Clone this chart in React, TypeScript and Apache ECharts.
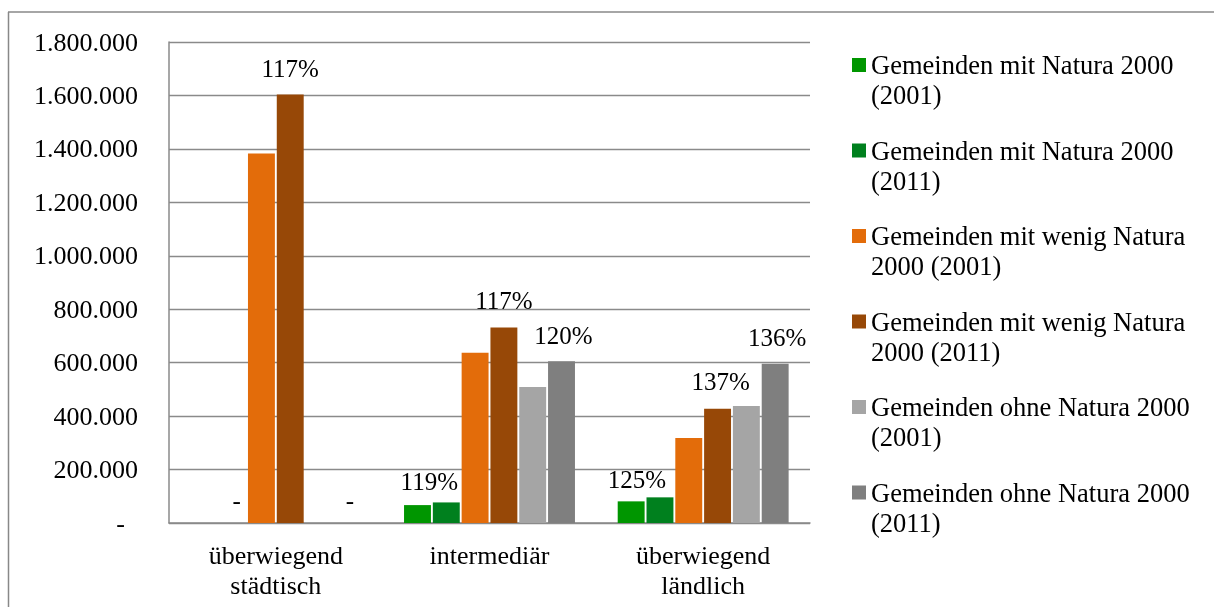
import React, { useEffect, useRef } from "react";
import * as echarts from "echarts";

const categories = ["überwiegend\nstädtisch", "intermediär", "überwiegend\nländlich"];
const seriesNames = [
  "Gemeinden mit Natura 2000 (2001)",
  "Gemeinden mit Natura 2000 (2011)",
  "Gemeinden mit wenig Natura 2000 (2001)",
  "Gemeinden mit wenig Natura 2000 (2011)",
  "Gemeinden ohne Natura 2000 (2001)",
  "Gemeinden ohne Natura 2000 (2011)",
];
const natura2001 = [0, 67000, 81000];
const natura2011 = [0, 77000, 96000];
const wenig2001 = [1383000, 637000, 318000];
const wenig2011 = [1604000, 732000, 428000];
const ohne2001 = [0, 509000, 438000];
const ohne2011 = [0, 605000, 596000];
const natura2011Labels = ["-", "119%", "125%"];
const wenig2011Labels = ["117%", "117%", "137%"];
const ohne2011Labels = ["-", "120%", "136%"];

const colors = ["#009600", "#00801E", "#E36C0A", "#974807", "#A5A5A5", "#7F7F7F"];
const FONT = "Liberation Serif";

// label placement styles (per category)
const naturaLabelStyle = [
  { offset: [4, 0], distance: 10 },
  { offset: [-17, 0], distance: 8 },
  { offset: [-23, 0], distance: 5 },
];
const wenigLabelStyle = [
  { offset: [0, 0], distance: 13 },
  { offset: [0, 0], distance: 14 },
  { offset: [3, 0], distance: 14 },
];
const ohneLabelStyle = [
  { offset: [2, 0], distance: 10 },
  { offset: [2, 0], distance: 13 },
  { offset: [2, 0], distance: 13 },
];

function fmt(v: number): string {
  return String(v).replace(/\B(?=(\d{3})+(?!\d))/g, ".");
}

function labeled(values: number[], labels: string[], styles: any[]) {
  return values.map((v, i) => ({
    value: v,
    label: {
      show: true,
      position: "top",
      formatter: () => labels[i],
      offset: styles[i].offset,
      distance: styles[i].distance,
    },
  }));
}

export default function App() {
  const ref = useRef<HTMLDivElement>(null);
  useEffect(() => {
    document.body.style.margin = "0";
    const chart = echarts.init(ref.current!, null, { renderer: "svg" });
    const valueSets = [
      natura2001,
      labeled(natura2011, natura2011Labels, naturaLabelStyle),
      wenig2001,
      labeled(wenig2011, wenig2011Labels, wenigLabelStyle),
      ohne2001,
      labeled(ohne2011, ohne2011Labels, ohneLabelStyle),
    ];
    chart.setOption({
      animation: false,
      textStyle: { fontFamily: FONT, color: "#000" },
      color: colors,
      grid: { left: 169, right: 404, top: 42, bottom: 84, containLabel: false },
      graphic: [
        { type: "line", shape: { x1: 8, y1: 12, x2: 1214, y2: 12 }, style: { stroke: "#888", lineWidth: 1.5 } },
        { type: "line", shape: { x1: 8.5, y1: 12, x2: 8.5, y2: 607 }, style: { stroke: "#888", lineWidth: 1.5 } },
      ],
      legend: {
        orient: "vertical",
        left: 852,
        top: 20,
        padding: 0,
        itemWidth: 14,
        itemHeight: 14,
        itemGap: -4.5,
        icon: "rect",
        data: seriesNames,
        formatter: (name: string) => "\n" + name,
        textStyle: {
          fontFamily: FONT,
          fontSize: 26.5,
          lineHeight: 30,
          color: "#000",
          width: 330,
          overflow: "break",
        },
      },
      xAxis: {
        type: "category",
        data: categories,
        axisLine: { show: true, lineStyle: { color: "#8a8a8a", width: 1.5 } },
        axisTick: { show: false },
        axisLabel: {
          fontFamily: FONT,
          fontSize: 26,
          lineHeight: 30,
          color: "#000",
          margin: 17,
          interval: 0,
        },
      },
      yAxis: {
        type: "value",
        min: 0,
        max: 1800000,
        interval: 200000,
        axisLine: { show: true, lineStyle: { color: "#8a8a8a", width: 1.5 } },
        axisTick: { show: false },
        splitLine: { show: true, lineStyle: { color: "#8a8a8a", width: 1.3 } },
        axisLabel: {
          fontFamily: FONT,
          fontSize: 26,
          color: "#000",
          margin: 31,
          formatter: (v: number) => (v === 0 ? "{z|-}" : fmt(v)),
          rich: { z: { fontFamily: FONT, fontSize: 26, color: "#000", padding: [0, 13, 0, 0] } },
        },
      },
      series: seriesNames.map((name, i) => ({
        name,
        type: "bar",
        data: valueSets[i],
        barGap: "7%",
        barCategoryGap: "20%",
        itemStyle: { color: colors[i] },
        label: { fontFamily: FONT, fontSize: 25, lineHeight: 26, color: "#000" },
      })),
    });
    return () => chart.dispose();
  }, []);
  return <div ref={ref} style={{ position: "fixed", left: 0, top: 0, width: 1214, height: 607 }} />;
}
